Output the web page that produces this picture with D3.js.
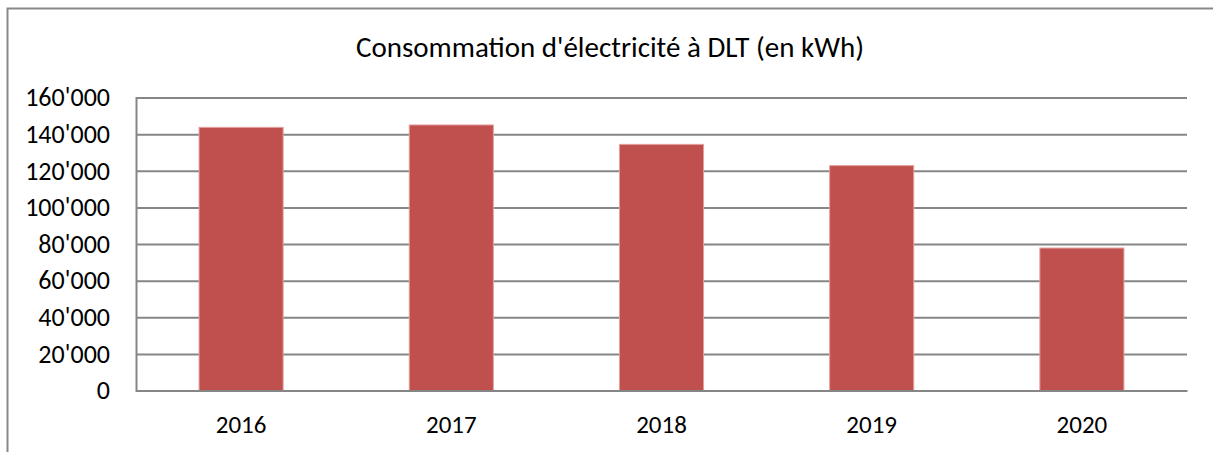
<!DOCTYPE html>
<html>
<head>
<meta charset="utf-8">
<script src="https://cdn.jsdelivr.net/npm/d3@7"></script>
<style>
  body { margin: 0; background: #fff; overflow: hidden; }
  svg { display: block; }
  text { font-family: Calibri, Carlito, Lato, sans-serif; fill: #000; }
</style>
</head>
<body>
<div id="chart"></div>
<script>
// data
var years = ["2016", "2017", "2018", "2019", "2020"];
var consumption = [143700, 145000, 134400, 122800, 77800];
var yTicks = [0, 20000, 40000, 60000, 80000, 100000, 120000, 140000, 160000];
var title = "Consommation d'électricité à DLT (en kWh)";

var W = 1213, H = 452;
var margin = {top: 97.5, right: 26, bottom: 61.5, left: 136};
var width = W - margin.left - margin.right;
var height = H - margin.top - margin.bottom;

var svg = d3.select("#chart").append("svg")
    .attr("width", W)
    .attr("height", H);

// outer chart border: only the top and left edges are inside the picture
svg.append("path")
    .attr("d", "M7.5," + H + "V8.5H" + W)
    .attr("fill", "none")
    .attr("stroke", "#888")
    .attr("stroke-width", 2);

svg.append("text")
    .attr("x", 610).attr("y", 57)
    .attr("text-anchor", "middle")
    .style("font-size", "29px")
    .text(title);

var g = svg.append("g")
    .attr("transform", "translate(" + margin.left + "," + margin.top + ")");

var x = d3.scaleBand().domain(years).range([0, width]).paddingInner(0.6).paddingOuter(0.3);
var y = d3.scaleLinear().domain([0, 160000]).range([height, 0]);

// format 160000 -> 160'000
function fmt(v) {
    return d3.format(",")(v).replace(/,/g, "'");
}

var yAxis = g.append("g")
    .call(d3.axisLeft(y).tickValues(yTicks).tickSize(-width).tickPadding(26).tickFormat(fmt));
yAxis.select(".domain").attr("stroke", "#868686").attr("stroke-width", 2);
yAxis.selectAll(".tick line").attr("stroke", "#868686").attr("stroke-width", 2);
yAxis.selectAll(".tick text").style("font-size", "26px").attr("fill", "#000");

g.selectAll("rect.bar")
    .data(consumption)
    .enter().append("rect")
    .attr("class", "bar")
    .attr("x", function(d, i) { return x(years[i]); })
    .attr("y", function(d) { return y(d); })
    .attr("width", x.bandwidth())
    .attr("height", function(d) { return height - y(d); })
    .attr("fill", "#C0504D")
    .attr("stroke", "#E3A09E")
    .attr("stroke-width", 1);

var xAxis = g.append("g")
    .attr("transform", "translate(0," + height + ")")
    .call(d3.axisBottom(x).tickSize(0).tickPadding(25));
xAxis.select(".domain").attr("stroke", "#868686").attr("stroke-width", 2);
xAxis.selectAll(".tick text").style("font-size", "25px").attr("fill", "#000");
</script>
</body>
</html>
